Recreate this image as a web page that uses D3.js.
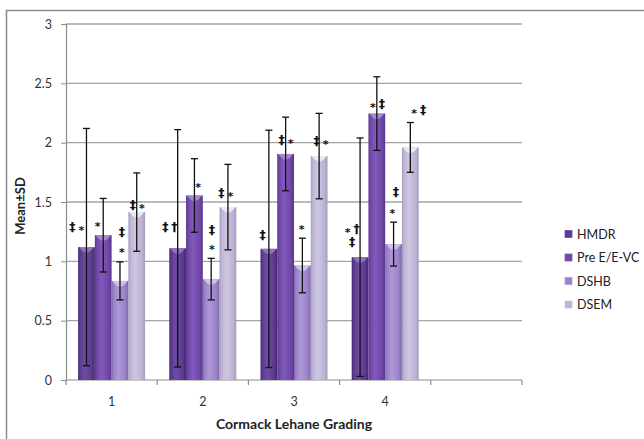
<!DOCTYPE html>
<html><head><meta charset="utf-8">
<script src="https://cdn.jsdelivr.net/npm/d3@7"></script>
<style>
html,body{margin:0;padding:0;background:#fff;}
svg{display:block;font-family:Lato,"Open Sans",sans-serif;}
</style></head>
<body>
<svg id="chart" width="644" height="439"></svg>
<script>
// ---------- data ----------
const categories = ["1", "2", "3", "4"];
const series = ["HMDR", "Pre E/E-VC", "DSHB", "DSEM"];
const meanHMDR = [1.12, 1.11, 1.105, 1.035];
const meanPre  = [1.22, 1.555, 1.905, 2.245];
const meanDSHB = [0.835, 0.85, 0.965, 1.145];
const meanDSEM = [1.415, 1.457, 1.887, 1.96];
const sdHMDR = [1.0, 1.0, 1.0, 1.005];
const sdPre  = [0.31, 0.31, 0.31, 0.31];
const sdDSHB = [0.16, 0.175, 0.23, 0.185];
const sdDSEM = [0.33, 0.36, 0.36, 0.21];
const yTicks = [0, 0.5, 1, 1.5, 2, 2.5, 3];
const xTitle = "Cormack Lehane Grading";
const yTitle = "Mean±SD";
// significance marks: [category, series, text]
const marks = [
  ["1","HMDR","‡*"], ["1","Pre E/E-VC","*"], ["1","DSHB","‡"], ["1","DSHB","*"], ["1","DSEM","‡*"],
  ["2","HMDR","‡†"], ["2","Pre E/E-VC","*"], ["2","DSHB","‡"], ["2","DSHB","*"], ["2","DSEM","‡*"],
  ["3","HMDR","‡"], ["3","Pre E/E-VC","‡*"], ["3","DSHB","*"], ["3","DSEM","‡*"],
  ["4","HMDR","*†"], ["4","HMDR","‡"], ["4","Pre E/E-VC","*‡"], ["4","DSHB","‡"], ["4","DSHB","*"], ["4","DSEM","*‡"]
];

// ---------- layout (not data) ----------
// placement of each mark: [pixel offset from bar centre, height in axis units]
const markPlace = [
  [-9.5,1.29],[-5.5,1.33],[2,1.25],[2,1.11],[0.6,1.48],
  [-7.7,1.29],[3.6,1.66],[0.8,1.265],[0.8,1.13],[-2,1.58],
  [-6.2,1.23],[0.5,2.03],[-0.7,1.30],[2,2.02],
  [-8,1.28],[-8,1.166],[0.5,2.333],[2.4,1.588],[-1.3,1.433],[8.4,2.277]
];
const colors = [
  {base:"#5c3b8f", light:"#6f4ca4", dark:"#44296e", cap:"#9277c0"},
  {base:"#7047a8", light:"#8159bb", dark:"#573789", cap:"#a78cd3"},
  {base:"#9a82c8", light:"#ad98d6", dark:"#7f69ad", cap:"#d2c5ea"},
  {base:"#bdb3d4", light:"#cec6e1", dark:"#a59bbc", cap:"#eeeaf5"}
];

const means = [meanHMDR, meanPre, meanDSHB, meanDSEM];
const sds = [sdHMDR, sdPre, sdDSHB, sdDSEM];
const rows = [];
series.forEach((s, si) => categories.forEach((c, ci) => rows.push({s, si, c, m: means[si][ci], sd: sds[si][ci]})));

const svg = d3.select("#chart");
const plot = {l: 66, r: 522, t: 24, b: 380};

// outer frame
svg.append("rect").attr("x", 6.5).attr("y", 10.5).attr("width", 660).attr("height", 460)
  .attr("fill", "none").attr("stroke", "#8c8c8c").attr("stroke-width", 1.5);

const x = d3.scaleBand().domain(categories.concat(["_"])).range([plot.l, plot.r]).padding(0);
const xi = d3.scaleBand().domain(series).range([0, x.bandwidth()]).paddingInner(0).paddingOuter(0.722);
const y = d3.scaleLinear().domain([0, 3]).range([plot.b, plot.t]);

// gradients
const defs = svg.append("defs");
colors.forEach((c, i) => {
  const g = defs.append("linearGradient").attr("id", "g" + i).attr("x1", 0).attr("x2", 1).attr("y1", 0).attr("y2", 0);
  g.append("stop").attr("offset", "0%").attr("stop-color", c.dark);
  g.append("stop").attr("offset", "12%").attr("stop-color", c.base);
  g.append("stop").attr("offset", "40%").attr("stop-color", c.light);
  g.append("stop").attr("offset", "80%").attr("stop-color", c.base);
  g.append("stop").attr("offset", "100%").attr("stop-color", c.dark);
});

// gridlines
svg.append("g").selectAll("line").data(yTicks.filter(t => t > 0)).join("line")
  .attr("x1", plot.l).attr("x2", plot.r).attr("y1", d => y(d)).attr("y2", d => y(d))
  .attr("stroke", "#a3a3a3").attr("stroke-width", 1.4);

// y axis
const yAxis = svg.append("g").attr("transform", `translate(${plot.l},0)`)
  .call(d3.axisLeft(y).tickValues(yTicks).tickFormat(d => d3.format("")(d)).tickSize(5).tickPadding(9));
yAxis.select(".domain").attr("stroke", "#8c8c8c").attr("stroke-width", 1.2);
yAxis.selectAll(".tick line").attr("stroke", "#8c8c8c");
yAxis.selectAll("text").attr("font-size", 12.5).attr("fill", "#333").attr("font-family", "Lato, sans-serif");

// x axis baseline + boundary ticks
svg.append("line").attr("x1", plot.l).attr("x2", plot.r).attr("y1", y(0)).attr("y2", y(0))
  .attr("stroke", "#8c8c8c").attr("stroke-width", 1.2);
const bounds = x.domain().map(d => x(d)).concat([plot.r]);
svg.append("g").selectAll("line").data(bounds).join("line")
  .attr("x1", d => d).attr("x2", d => d).attr("y1", y(0)).attr("y2", y(0) + 5)
  .attr("stroke", "#8c8c8c").attr("stroke-width", 1.2);
svg.append("g").selectAll("text").data(categories).join("text")
  .attr("x", d => x(d) + x.bandwidth() / 2).attr("y", y(0) + 26)
  .attr("text-anchor", "middle").attr("font-size", 12.5).attr("fill", "#333").text(d => d);

// bars
const bw = xi.bandwidth();
const barG = svg.append("g");
barG.selectAll("rect").data(rows).join("rect")
  .attr("x", d => x(d.c) + xi(d.s)).attr("width", bw)
  .attr("y", d => y(d.m)).attr("height", d => y(0) - y(d.m))
  .attr("fill", d => `url(#g${d.si})`);
// cylinder top highlight
barG.selectAll("path").data(rows).join("path")
  .attr("d", d => {
    const x0 = x(d.c) + xi(d.s), x1 = x0 + bw, yt = y(d.m);
    return `M${x0 + 1},${yt} L${x1 - 1},${yt} Q${x0 + bw / 2},${yt + 11} ${x0 + 1},${yt} Z`;
  })
  .attr("fill", d => colors[d.si].cap).attr("opacity", 0.95);

// error bars
const eg = svg.append("g").attr("stroke", "#111").attr("stroke-width", 1.3);
rows.forEach(d => {
  const cx = x(d.c) + xi(d.s) + bw / 2;
  const lo = y(Math.max(0, d.m - d.sd)), hi = y(d.m + d.sd);
  eg.append("line").attr("x1", cx).attr("x2", cx).attr("y1", lo).attr("y2", hi);
  eg.append("line").attr("x1", cx - 3.5).attr("x2", cx + 3.5).attr("y1", lo).attr("y2", lo);
  eg.append("line").attr("x1", cx - 3.5).attr("x2", cx + 3.5).attr("y1", hi).attr("y2", hi);
});

// significance marks
const mg = svg.append("g").attr("font-weight", "bold").attr("fill", "#111").attr("font-family", "DejaVu Sans, sans-serif");
marks.forEach((m, i) => {
  const [c, s, txt] = m;
  const [dx, v] = markPlace[i];
  const cx = x(c) + xi(s) + bw / 2 + dx;
  const cy = y(v);
  const chars = Array.from(txt);
  chars.forEach((ch, k) => {
    const off = (k - (chars.length - 1) / 2) * 9;
    mg.append("text").attr("x", cx + off).attr("y", cy + (ch === "*" ? 7.5 : 4.5))
      .attr("text-anchor", "middle").attr("font-size", ch === "*" ? 11 : 12.5).text(ch);
  });
});

// axis titles
svg.append("text").attr("x", (plot.l + plot.r) / 2).attr("y", 429).attr("text-anchor", "middle")
  .attr("font-size", 14).attr("font-weight", "bold").attr("fill", "#222").text(xTitle);
svg.append("text").attr("transform", `translate(25,206) rotate(-90)`).attr("text-anchor", "middle")
  .attr("font-size", 13).attr("font-weight", "bold").attr("fill", "#222").text(yTitle);

// legend
const lg = svg.append("g").attr("transform", "translate(565,234)");
series.forEach((s, i) => {
  const g = lg.append("g").attr("transform", `translate(0,${i * 23.5})`);
  g.append("rect").attr("x", 0).attr("y", -3.5).attr("width", 7).attr("height", 7)
    .attr("fill", colors[i].base).attr("stroke", colors[i].light).attr("stroke-width", 0.8);
  g.append("text").attr("x", 12).attr("y", 4.5).attr("font-size", 12.5).attr("fill", "#222").text(s);
});
</script>
</body></html>
